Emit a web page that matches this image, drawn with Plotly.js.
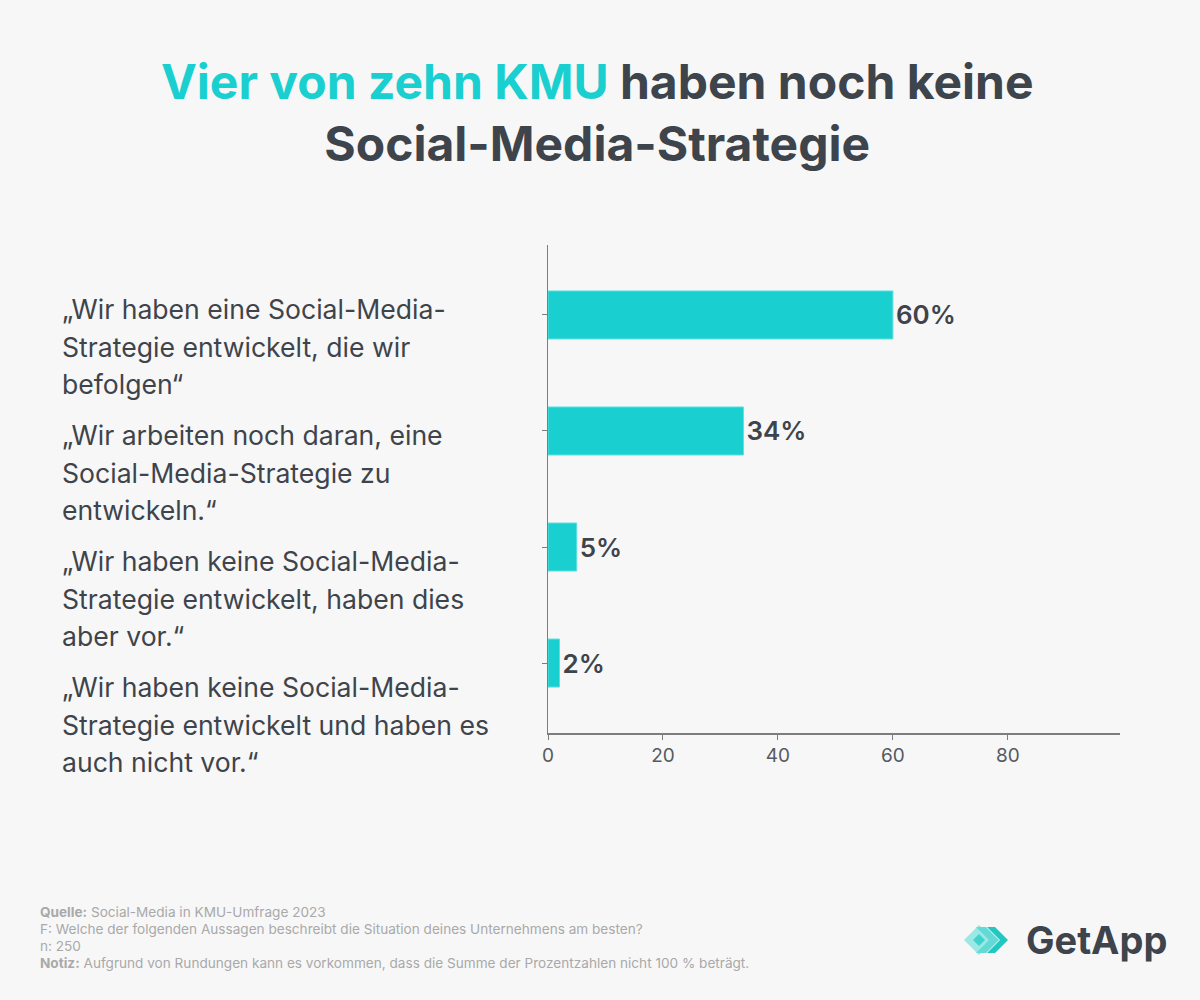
<!DOCTYPE html>
<html>
<head>
<meta charset="utf-8">
<script src="https://cdn.plot.ly/plotly-3.0.1.min.js"></script>
<style>
html,body{margin:0;padding:0;background:#f7f7f7;}
#chart{width:1200px;height:1000px;}
</style>
</head>
<body>
<div id="chart"></div>
<script>
// ---- data ----
const categories = [
  "„Wir haben eine Social-Media-<br>Strategie entwickelt, die wir<br>befolgen“",
  "„Wir arbeiten noch daran, eine<br>Social-Media-Strategie zu<br>entwickeln.“",
  "„Wir haben keine Social-Media-<br>Strategie entwickelt, haben dies<br>aber vor.“",
  "„Wir haben keine Social-Media-<br>Strategie entwickelt und haben es<br>auch nicht vor.“"
];
const values = [60, 34, 5, 2];
const valueLabels = ["60%", "34%", "5%", "2%"];
const xTickVals = [0, 20, 40, 60, 80];
const xTickText = ["0", "20", "40", "60", "80"];

const titleHighlight = "Vier von zehn KMU";
const titleRest1 = " haben noch keine";
const titleLine2 = "Social-Media-Strategie";
const footerLines = [
  "<b>Quelle:</b> Social-Media in KMU-Umfrage 2023",
  "F: Welche der folgenden Aussagen beschreibt die Situation deines Unternehmens am besten?",
  "n: 250",
  "<b>Notiz:</b> Aufgrund von Rundungen kann es vorkommen, dass die Summe der Prozentzahlen nicht 100 % beträgt."
];
const brandName = "GetApp";

// ---- layout helpers (pixel -> paper) ----
const W = 1200, H = 1000;
const mL = 548, mR = 80, mT = 245, mB = 267;
const pw = W - mL - mR, ph = H - mT - mB;
const px = x => (x - mL) / pw;
const py = y => (H - mB - y) / ph;

const FONT = "Inter, 'Noto Sans', sans-serif";
const TEAL = "#19cfcf";
const DARK = "#3e444b";

const annotations = [];
// title
annotations.push({
  text: "<span style='color:" + TEAL + "'>" + titleHighlight + "</span>" + titleRest1 + "<br>" + titleLine2,
  xref: "paper", yref: "paper", x: px(597), y: py(112),
  xanchor: "center", yanchor: "middle", align: "center", showarrow: false,
  font: {family: FONT, size: 48, color: DARK, weight: 700}
});
// category labels, one annotation per line
categories.forEach((c, i) => {
  c.split("<br>").forEach((line, j) => {
    annotations.push({
      text: line, xref: "paper", yref: "paper",
      x: px(60), y: py(309 + 126 * i + 37.7 * j),
      xanchor: "left", yanchor: "middle", showarrow: false,
      font: {family: FONT, size: 26.6, color: DARK}
    });
  });
});
// footer, one annotation per line
footerLines.forEach((line, j) => {
  annotations.push({
    text: line, xref: "paper", yref: "paper",
    x: px(38), y: py(912 + 17 * j), xanchor: "left", yanchor: "middle",
    showarrow: false, font: {family: FONT, size: 13.6, color: "#a9a9a9"}
  });
});
// brand
annotations.push({
  text: "<b>" + brandName + "</b>", xref: "paper", yref: "paper",
  x: px(1169), y: py(940), xanchor: "right", yanchor: "middle",
  showarrow: false, font: {family: FONT, size: 38, color: "#3e444b"}
});

const logoSvg = `<svg xmlns='http://www.w3.org/2000/svg' width='60' height='40' viewBox='0 0 60 40'>
<polygon points='2,20 17,5 32,20 17,35' fill='#9be8e4'/>
<polygon points='14,7 24,7 37,20 24,33 14,33 27,20' fill='#63dad5'/>
<polygon points='25,7 33,7 46,20 33,33 25,33 38,20' fill='#22c7c1'/>
<polygon points='11,20 17,14 23,20 17,26' fill='#40d2cc'/>
</svg>`;

const trace = {
  type: "bar", orientation: "h",
  x: values, y: categories.map((c, i) => i),
  width: 0.414,
  marker: {color: TEAL, line: {color: "#5fe0e0", width: 1}},
  text: valueLabels, textposition: "outside", cliponaxis: false,
  textfont: {family: FONT, size: 26, color: DARK, weight: 600},
  hoverinfo: "skip"
};

const layout = {
  width: W, height: H,
  paper_bgcolor: "#f7f7f7", plot_bgcolor: "#f7f7f7",
  margin: {l: mL, r: mR, t: mT, b: mB},
  showlegend: false,
  xaxis: {
    range: [0, 99.5], tickvals: xTickVals, ticktext: xTickText,
    showgrid: false, zeroline: false, showline: true, linecolor: "#7d7d7d", linewidth: 1.5,
    ticks: "outside", ticklen: 5, tickcolor: "#7d7d7d",
    tickfont: {family: FONT, size: 19, color: "#555a60"}, fixedrange: true
  },
  yaxis: {
    range: [3.603, -0.603], showticklabels: false,
    tickvals: [0, 1, 2, 3],
    showgrid: false, zeroline: false, showline: true, linecolor: "#7d7d7d", linewidth: 1.5,
    ticks: "outside", ticklen: 5, tickcolor: "#7d7d7d", fixedrange: true
  },
  annotations: annotations,
  images: [{
    source: "data:image/svg+xml;utf8," + encodeURIComponent(logoSvg),
    xref: "paper", yref: "paper", x: px(962), y: py(920),
    sizex: 60 / pw, sizey: 40 / ph, xanchor: "left", yanchor: "top", layer: "above"
  }]
};

Plotly.newPlot("chart", [trace], layout, {displayModeBar: false, staticPlot: true});
</script>
</body>
</html>
